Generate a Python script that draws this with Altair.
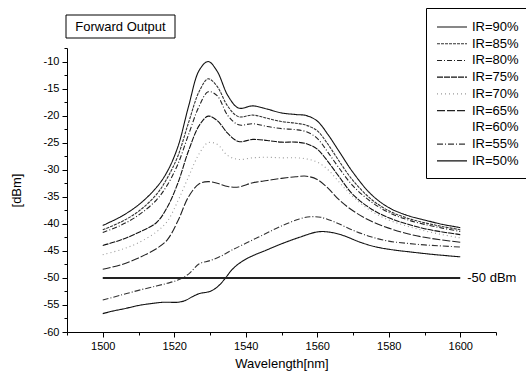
import altair as alt
import pandas as pd

# ---- data ----
wl_main = [1500, 1505, 1510, 1515, 1518, 1521, 1524, 1527, 1529.5, 1532, 1535, 1538,
           1542, 1546, 1550, 1554, 1557, 1560, 1563, 1566, 1570, 1575, 1580, 1585,
           1590, 1595, 1600]
ir90 = [-40.3, -38.7, -36.5, -33.3, -30.4, -25.8, -18.3, -11.6, -10.0, -11.8, -16.3, -18.6,
        -18.2, -18.8, -19.5, -19.8, -20.0, -21.0, -23.5, -26.5, -30.5, -34.5, -37.0, -38.4,
        -39.3, -40.1, -40.7]
ir85 = [-41.1, -39.7, -37.7, -34.6, -31.6, -27.5, -21.3, -15.5, -13.2, -14.6, -18.3, -20.2,
        -19.9, -20.5, -21.1, -21.4, -21.8, -22.8, -25.3, -28.3, -32.0, -35.4, -37.6, -38.9,
        -39.8, -40.5, -41.1]
ir80 = [-41.6, -40.3, -38.4, -35.6, -32.9, -29.0, -23.5, -18.2, -15.6, -16.3, -20.0, -21.7,
        -21.5, -22.0, -22.4, -22.6, -23.0, -24.2, -26.8, -29.6, -33.0, -35.9, -37.9, -39.2,
        -40.1, -40.8, -41.4]
ir75 = [-44.0, -43.0, -41.6, -39.8, -37.0, -32.5, -26.5, -21.8, -20.1, -20.9, -23.3, -24.8,
        -24.4, -24.6, -24.9, -24.9, -25.2, -26.2, -28.5, -31.2, -34.6, -37.2, -38.9, -40.0,
        -40.9, -41.5, -42.0]
ir70 = [-45.7, -44.8, -43.5, -41.5, -39.6, -35.8, -31.3, -27.0, -25.0, -25.3, -27.4, -28.1,
        -27.8, -27.7, -27.8, -27.8, -28.0, -28.6, -30.0, -32.2, -35.0, -37.6, -39.3, -40.4,
        -41.3, -42.0, -42.6]
ir65 = [-48.4, -47.6, -46.3, -44.6, -43.0, -39.5, -35.0, -32.6, -32.2, -32.5, -33.1, -33.2,
        -32.4, -32.0, -31.6, -31.3, -31.2, -31.8, -33.4, -35.5, -37.6, -39.5, -40.8, -41.8,
        -42.5, -43.0, -43.4]

wl_55 = [1500, 1505, 1510, 1515, 1518, 1521, 1524, 1527, 1530, 1533, 1536, 1540, 1545,
         1550, 1555, 1558, 1561, 1565, 1570, 1575, 1580, 1585, 1590, 1595, 1600]
ir55 = [-54.1, -53.2, -52.3, -51.5, -51.0, -50.4, -49.3, -47.4, -46.8, -46.0, -44.9, -43.6,
        -42.0, -40.4, -39.1, -38.7, -38.8, -39.7, -41.2, -42.4, -43.2, -43.6, -43.9, -44.1,
        -44.3]

wl_50 = [1500, 1503, 1506, 1510, 1514, 1517, 1521, 1523, 1525, 1527, 1530, 1532, 1534, 1536,
         1538, 1541, 1546, 1550, 1555, 1560, 1563, 1567, 1572, 1576, 1580, 1586, 1593, 1600]
ir50 = [-56.6, -56.1, -55.7, -55.1, -54.7, -54.5, -54.5, -54.2, -53.5, -52.9, -52.5, -51.7,
        -50.3, -48.6, -47.4, -46.2, -44.8, -43.7, -42.5, -41.5, -41.5, -42.1, -43.4, -44.2,
        -44.7, -45.2, -45.7, -46.1]

series_names = ["IR=90%", "IR=85%", "IR=80%", "IR=75%", "IR=70%",
                "IR=65%", "IR=60%", "IR=55%", "IR=50%"]
series_colors = ["#111111", "#333333", "#222222", "#111111", "#9a9a9a",
                 "#222222", "#ffffff", "#333333", "#111111"]
series_dash = [[1, 0], [3, 1], [5, 2, 1, 2], [6, 1], [1, 3],
               [8, 2], [1, 0], [6, 2, 1, 2], [1, 0]]

ref_level = -50
ref_start, ref_end = 1500, 1600
ref_label = "-50 dBm"
title_text = "Forward Output"

rows = []
for name, xs, ys in [("IR=90%", wl_main, ir90), ("IR=85%", wl_main, ir85),
                     ("IR=80%", wl_main, ir80), ("IR=75%", wl_main, ir75),
                     ("IR=70%", wl_main, ir70), ("IR=65%", wl_main, ir65),
                     ("IR=55%", wl_55, ir55), ("IR=50%", wl_50, ir50)]:
    for x, y in zip(xs, ys):
        rows.append({"wl": x, "dbm": y, "series": name})
df = pd.DataFrame(rows)

FONT = "Liberation Sans"

x_axis = alt.Axis(values=list(range(1490, 1611, 10)),
                  labelExpr="datum.value % 20 == 0 ? '' + datum.value : ''",
                  labelOverlap=False,
                  tickSize={"condition": {"test": "datum.value % 20 == 0", "value": 5}, "value": 3},
                  title="Wavelength[nm]")
y_vals = [-60 + 2.5 * i for i in range(22)]
y_axis = alt.Axis(values=y_vals,
                  labelExpr="datum.value % 5 == 0 ? '' + datum.value : ''",
                  labelOverlap=False,
                  tickSize={"condition": {"test": "datum.value % 5 == 0", "value": 5}, "value": 3},
                  title="[dBm]")
x_scale = alt.Scale(domain=[1490, 1610], nice=False, zero=False)
y_scale = alt.Scale(domain=[-60, -7.5], nice=False, zero=False)

leg = alt.Legend(title=" ", titleFontSize=2, titlePadding=0.5)
lines = alt.Chart(df).mark_line(strokeWidth=1.1, interpolate="catmull-rom").encode(
    x=alt.X("wl:Q", scale=x_scale, axis=x_axis),
    y=alt.Y("dbm:Q", scale=y_scale, axis=y_axis),
    color=alt.Color("series:N", scale=alt.Scale(domain=series_names, range=series_colors),
                    legend=leg),
    strokeDash=alt.StrokeDash("series:N", scale=alt.Scale(domain=series_names, range=series_dash),
                              legend=leg),
    detail="series:N",
)

ref_df = pd.DataFrame({"x": [ref_start], "x2": [ref_end], "y": [ref_level], "label": [ref_label]})
rule = alt.Chart(ref_df).mark_rule(strokeWidth=2, color="#222222").encode(
    x=alt.X("x:Q", scale=x_scale, axis=x_axis), x2="x2:Q",
    y=alt.Y("y:Q", scale=y_scale, axis=y_axis))
rule_text = alt.Chart(ref_df).mark_text(align="left", baseline="middle", dx=7, fontSize=13,
                                        font=FONT, color="black").encode(
    x=alt.X("x2:Q", scale=x_scale, axis=x_axis),
    y=alt.Y("y:Q", scale=y_scale, axis=y_axis), text="label:N")

tdf = pd.DataFrame({"t": [title_text]})
tbox = alt.Chart(tdf).mark_rect(fill="white", stroke="black", strokeWidth=1).encode(
    x=alt.value(-1), x2=alt.value(108), y=alt.value(-33), y2=alt.value(-10))
ttext = alt.Chart(tdf).mark_text(fontSize=13, font=FONT, color="black", baseline="middle",
                                 align="center").encode(
    x=alt.value(53.5), y=alt.value(-21), text="t:N")

chart = alt.layer(lines, rule, rule_text, tbox, ttext).properties(
    width=429, height=284,
    autosize=alt.AutoSizeParams(type="none"),
    padding={"left": 67, "top": 48, "right": 30, "bottom": 42},
).configure_view(stroke=None).configure_axis(
    grid=False, domainColor="black", domainWidth=1, tickColor="black", tickWidth=1,
    labelFont=FONT, labelFontSize=11, labelColor="black", labelPadding=3, labelOverlap=False,
    titleFont=FONT, titleFontSize=13, titleFontWeight="normal", titleColor="black",
).configure_axisX(titlePadding=6).configure_axisY(titlePadding=20).configure_legend(
    orient="none", legendX=359, legendY=-40, strokeColor="black", fillColor="white",
    padding=10, symbolType="stroke", symbolSize=900, symbolStrokeWidth=1.2,
    labelFont=FONT, labelFontSize=13, labelColor="black", labelOffset=4,
    clipHeight=13, rowPadding=2.74,
)

chart.save("out.html", embed_options={"renderer": "svg", "actions": False})
